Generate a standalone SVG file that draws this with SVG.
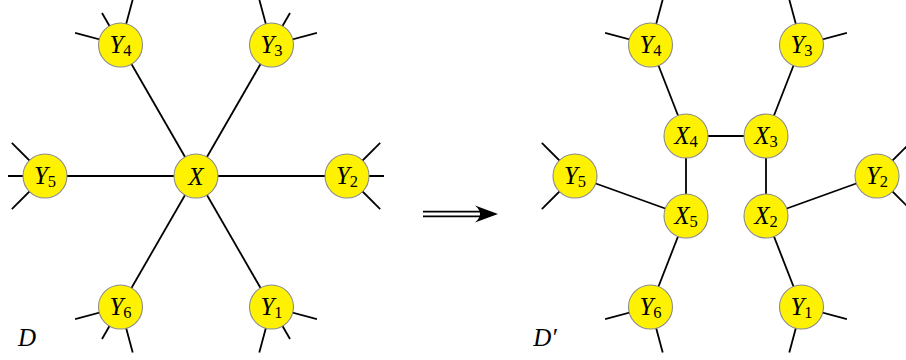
<svg xmlns="http://www.w3.org/2000/svg" width="906" height="360" viewBox="0 0 906 360">
<style>
.e{stroke:#000;stroke-width:1.8;fill:none;stroke-linecap:butt}
.n circle{fill:#fff200;stroke:#8a8a8a;stroke-width:1.1}
.n text,.lab{font-family:"Liberation Serif","DejaVu Serif",serif;font-style:italic;font-size:25px;fill:#000;text-anchor:middle}
.s{font-style:normal;font-size:16.5px}
</style>
<rect width="906" height="360" fill="#fff"/>
<g id="connectors">
<!-- left graph edges -->
<line class="e" x1="196" y1="176" x2="271.5" y2="307"/>
<line class="e" x1="196" y1="176" x2="347" y2="176"/>
<line class="e" x1="196" y1="176" x2="271.5" y2="45"/>
<line class="e" x1="196" y1="176" x2="120.5" y2="45"/>
<line class="e" x1="196" y1="176" x2="45" y2="176"/>
<line class="e" x1="196" y1="176" x2="120.5" y2="307"/>
<!-- left stubs -->
<line class="e" x1="271.5" y1="307" x2="316.9" y2="319.2"/>
<line class="e" x1="271.5" y1="307" x2="290" y2="339"/>
<line class="e" x1="271.5" y1="307" x2="259.3" y2="352.4"/>
<line class="e" x1="347" y1="176" x2="380.2" y2="142.8"/>
<line class="e" x1="347" y1="176" x2="384" y2="176"/>
<line class="e" x1="347" y1="176" x2="380.2" y2="209.2"/>
<line class="e" x1="271.5" y1="45" x2="316.9" y2="32.8"/>
<line class="e" x1="271.5" y1="45" x2="290" y2="13"/>
<line class="e" x1="271.5" y1="45" x2="259.3" y2="-0.4"/>
<line class="e" x1="120.5" y1="45" x2="132.7" y2="-0.4"/>
<line class="e" x1="120.5" y1="45" x2="102" y2="13"/>
<line class="e" x1="120.5" y1="45" x2="75.1" y2="32.8"/>
<line class="e" x1="45" y1="176" x2="11.8" y2="142.8"/>
<line class="e" x1="45" y1="176" x2="8" y2="176"/>
<line class="e" x1="45" y1="176" x2="11.8" y2="209.2"/>
<line class="e" x1="120.5" y1="307" x2="132.7" y2="352.4"/>
<line class="e" x1="120.5" y1="307" x2="102" y2="339"/>
<line class="e" x1="120.5" y1="307" x2="75.1" y2="319.2"/>
<!-- right graph edges -->
<line class="e" x1="686" y1="136" x2="766" y2="136"/>
<line class="e" x1="686" y1="136" x2="686" y2="216"/>
<line class="e" x1="766" y1="136" x2="766" y2="216"/>
<line class="e" x1="686" y1="136" x2="650.5" y2="45"/>
<line class="e" x1="766" y1="136" x2="801.5" y2="45"/>
<line class="e" x1="686" y1="216" x2="575" y2="176"/>
<line class="e" x1="686" y1="216" x2="650.5" y2="307"/>
<line class="e" x1="766" y1="216" x2="877" y2="176"/>
<line class="e" x1="766" y1="216" x2="801.5" y2="307"/>
<!-- right stubs -->
<line class="e" x1="801.5" y1="307" x2="846.9" y2="319.2"/>
<line class="e" x1="801.5" y1="307" x2="789.3" y2="352.4"/>
<line class="e" x1="877" y1="176" x2="910.2" y2="142.8"/>
<line class="e" x1="877" y1="176" x2="910.2" y2="209.2"/>
<line class="e" x1="801.5" y1="45" x2="846.9" y2="32.8"/>
<line class="e" x1="801.5" y1="45" x2="789.3" y2="-0.4"/>
<line class="e" x1="650.5" y1="45" x2="662.7" y2="-0.4"/>
<line class="e" x1="650.5" y1="45" x2="605.1" y2="32.8"/>
<line class="e" x1="575" y1="176" x2="541.8" y2="142.8"/>
<line class="e" x1="575" y1="176" x2="541.8" y2="209.2"/>
<line class="e" x1="650.5" y1="307" x2="662.7" y2="352.4"/>
<line class="e" x1="650.5" y1="307" x2="605.1" y2="319.2"/>
<!-- implies arrow -->
<line class="e" x1="423" y1="211.6" x2="484" y2="211.6"/>
<line class="e" x1="423" y1="216.4" x2="484" y2="216.4"/>
<path d="M498,214 L475,205.5 Q485,214 475,222.5 Z" fill="#000"/>
</g>
<g id="X" class="n"><circle cx="196" cy="176" r="22"/><text x="196" y="184.5">X</text></g>
<g id="Y1" class="n"><circle cx="271.5" cy="307" r="22"/><text x="271.5" y="314.5">Y<tspan class="s" dy="3">1</tspan></text></g>
<g id="Y2" class="n"><circle cx="347" cy="176" r="22"/><text x="347" y="183.5">Y<tspan class="s" dy="3">2</tspan></text></g>
<g id="Y3" class="n"><circle cx="271.5" cy="45" r="22"/><text x="271.5" y="52.5">Y<tspan class="s" dy="3">3</tspan></text></g>
<g id="Y4" class="n"><circle cx="120.5" cy="45" r="22"/><text x="120.5" y="52.5">Y<tspan class="s" dy="3">4</tspan></text></g>
<g id="Y5" class="n"><circle cx="45" cy="176" r="22"/><text x="45" y="183.5">Y<tspan class="s" dy="3">5</tspan></text></g>
<g id="Y6" class="n"><circle cx="120.5" cy="307" r="22"/><text x="120.5" y="314.5">Y<tspan class="s" dy="3">6</tspan></text></g>
<g id="X4" class="n"><circle cx="686" cy="136" r="22"/><text x="686" y="143.5">X<tspan class="s" dy="3">4</tspan></text></g>
<g id="X3" class="n"><circle cx="766" cy="136" r="22"/><text x="766" y="143.5">X<tspan class="s" dy="3">3</tspan></text></g>
<g id="X5" class="n"><circle cx="686" cy="216" r="22"/><text x="686" y="223.5">X<tspan class="s" dy="3">5</tspan></text></g>
<g id="X2" class="n"><circle cx="766" cy="216" r="22"/><text x="766" y="223.5">X<tspan class="s" dy="3">2</tspan></text></g>
<g id="Y1b" class="n"><circle cx="801.5" cy="307" r="22"/><text x="801.5" y="314.5">Y<tspan class="s" dy="3">1</tspan></text></g>
<g id="Y2b" class="n"><circle cx="877" cy="176" r="22"/><text x="877" y="183.5">Y<tspan class="s" dy="3">2</tspan></text></g>
<g id="Y3b" class="n"><circle cx="801.5" cy="45" r="22"/><text x="801.5" y="52.5">Y<tspan class="s" dy="3">3</tspan></text></g>
<g id="Y4b" class="n"><circle cx="650.5" cy="45" r="22"/><text x="650.5" y="52.5">Y<tspan class="s" dy="3">4</tspan></text></g>
<g id="Y5b" class="n"><circle cx="575" cy="176" r="22"/><text x="575" y="183.5">Y<tspan class="s" dy="3">5</tspan></text></g>
<g id="Y6b" class="n"><circle cx="650.5" cy="307" r="22"/><text x="650.5" y="314.5">Y<tspan class="s" dy="3">6</tspan></text></g>
<text class="lab" x="27" y="345.5">D</text>
<text class="lab" x="545" y="345.5">D′</text>
</svg>
